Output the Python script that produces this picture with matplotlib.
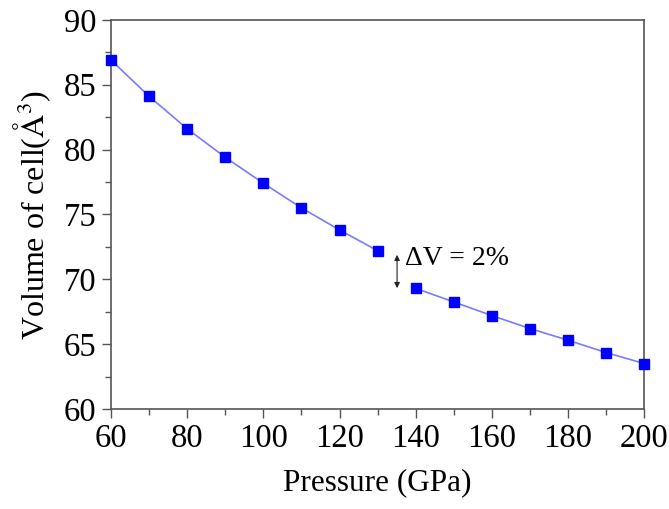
import matplotlib.pyplot as plt
from matplotlib.ticker import MultipleLocator

# data
p_low = [60, 70, 80, 90, 100, 110, 120, 130]
v_low = [86.9, 84.1, 81.6, 79.4, 77.4, 75.5, 73.8, 72.2]
p_high = [140, 150, 160, 170, 180, 190, 200]
v_high = [69.3, 68.25, 67.2, 66.2, 65.3, 64.35, 63.5]

plt.rcParams['font.family'] = ['Liberation Serif', 'DejaVu Serif']
plt.rcParams['mathtext.fontset'] = 'stix'

fig = plt.figure(figsize=(6.69, 5.09), dpi=100)
ax = fig.add_axes([0.166, 0.1965, 0.797, 0.7645])

for p, v in [(p_low, v_low), (p_high, v_high)]:
    ax.plot(p, v, color='#7a7aff', lw=1.2, zorder=2)
    ax.plot(p, v, 's', color='#0000ff', ms=7.5, zorder=3, clip_on=False)

# gap annotation
ax.annotate('', xy=(135.1, 69.1), xytext=(135.1, 72.1),
            arrowprops=dict(arrowstyle='<|-|>', color='#222222', lw=0.8,
                            mutation_scale=8))
ax.text(137.2, 71.6, 'ΔV = 2%', fontsize=20, va='center', ha='left')

ax.set_xlim(60, 200)
ax.set_ylim(60, 90)
ax.xaxis.set_major_locator(MultipleLocator(20))
ax.xaxis.set_minor_locator(MultipleLocator(10))
ax.yaxis.set_major_locator(MultipleLocator(5))
ax.yaxis.set_minor_locator(MultipleLocator(2.5))
ax.tick_params(which='major', length=6.5, width=1, color='#555555', labelsize=23.5, pad=4)
ax.tick_params(which='minor', length=4, width=1, color='#555555')
for s in ax.spines.values():
    s.set_color('#555555')
    s.set_linewidth(1.2)

ax.set_xlabel('Pressure (GPa)', fontsize=22.5, labelpad=10)
ax.set_ylabel(r'Volume of cell($\mathrm{\AA^3}$)', fontsize=23, labelpad=8)

fig.savefig('out.png', dpi=100)
